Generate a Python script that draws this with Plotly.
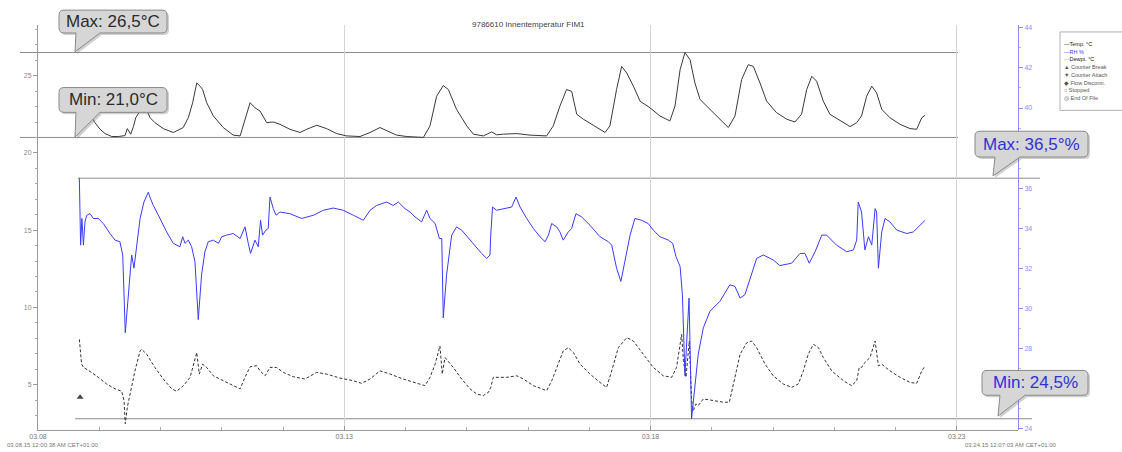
import pandas as pd
import plotly.graph_objects as go

# ---------------- data (hours since 2015-03-08 00:00) ----------------
start = pd.Timestamp("2015-03-08 00:00")

temp_hours = [17.1,20.4,22.3,24.3,26.3,28.9,31.5,34.1,35.0,36.3,37.4,38.3,40.0,41.9,43.9,45.8,49.1,53.0,56.9,58.9,
              60.6,62.2,63.5,64.5,66.1,68.7,72.6,76.5,79.2,81.1,83.1,85.0,87.0,89.6,92.2,94.8,98.7,102.7,105.3,109.2,
              113.1,117.0,120.9,126.2,130.1,134.0,136.6,140.5,144.5,151.0,153.6,156.2,158.8,160.8,164.0,168.0,170.6,174.5,177.8,179.7,
              182.3,187.6,192.8,199.3,201.9,204.5,207.1,209.1,211.1,213.7,217.6,222.2,224.1,226.7,228.7,230.7,233.3,235.9,239.8,243.7,
              247.6,249.6,251.6,253.5,255.5,257.4,259.4,263.3,267.2,270.5,273.1,275.7,278.3,280.3,282.9,285.5,289.4,293.4,296.6,299.2,
              301.2,303.2,305.1,307.7,310.3,314.3,318.2,320.8,322.7,324.7,326.7,328.6,330.6,333.8,337.8,341.7,344.3,346.3,347.6]
temp_values = [23.67,22.50,21.96,21.53,21.25,21.06,21.06,21.12,21.57,21.21,21.70,22.28,22.71,23.03,22.28,21.96,21.57,21.32,21.64,22.28,
               23.25,24.53,24.32,24.10,23.25,22.39,21.64,21.15,21.10,22.18,23.25,22.92,22.71,21.96,22.00,21.85,21.53,21.32,21.53,21.79,
               21.57,21.25,21.10,21.06,21.32,21.64,21.43,21.15,21.06,21.00,21.75,23.67,24.36,24.10,22.82,21.75,21.21,21.10,21.36,21.17,
               21.21,21.25,21.15,21.10,21.75,23.03,24.10,23.99,22.50,22.18,21.79,21.32,21.75,24.10,25.60,25.17,24.32,23.35,22.92,22.39,
               22.07,23.03,25.39,26.50,26.03,24.53,23.46,22.82,22.18,21.64,22.39,24.75,25.71,25.60,24.53,23.35,22.60,22.18,22.00,22.50,
               24.10,24.96,24.64,23.35,22.50,22.07,21.70,21.96,22.39,23.67,24.32,23.89,22.82,22.28,21.85,21.57,21.53,22.28,22.43]

rh_hours = [16.2,16.7,17.2,17.8,18.4,19.1,20.4,21.7,23.6,25.6,28.2,30.2,32.1,33.2,34.2,35.4,36.7,37.6,38.7,40.0,
            41.5,43.2,44.1,45.2,47.8,50.4,53.0,55.6,56.7,57.6,58.9,60.2,61.5,62.8,64.1,65.4,66.7,68.7,70.7,72.0,
            73.9,76.5,79.2,81.1,82.4,83.3,85.0,86.3,87.2,88.0,89.3,90.2,90.9,92.2,93.3,94.8,98.7,103.3,107.9,111.8,
            115.7,119.6,123.6,127.5,130.1,132.7,136.6,139.2,141.2,143.8,145.8,147.7,150.3,152.3,153.6,155.6,157.3,158.2,158.8,160.1,
            162.1,164.0,166.0,169.3,171.9,173.8,175.8,177.1,177.4,178.1,
            179.7,182.3,185.6,187.3,188.9,191.5,194.1,196.7,198.7,200.0,201.3,203.2,204.5,205.8,207.8,209.1,210.8,213.0,216.3,
            220.2,223.5,224.8,226.7,228.4,230.0,232.0,233.9,236.5,239.1,241.1,243.7,247.0,248.7,250.0,251.6,252.5,253.5,254.2,255.1,
            256.1,257.4,258.7,260.7,263.3,267.2,271.1,273.1,275.1,277.0,279.0,281.6,284.2,288.1,290.7,295.3,298.6,300.5,302.2,304.5,
            307.1,309.0,312.9,316.9,319.5,320.8,321.4,322.7,324.0,325.4,326.7,328.0,328.6,329.3,330.6,331.9,333.8,336.5,340.4,343.0,
            345.6,347.6]
rh_values = [36.50,33.16,34.49,33.16,34.32,34.65,34.73,34.49,34.49,34.24,33.74,33.41,33.33,32.67,28.79,30.69,32.67,32.01,33.16,34.49,
             35.31,35.80,35.47,35.14,34.49,33.82,33.25,33.08,33.58,33.25,33.41,33.08,32.34,29.45,31.68,32.83,33.33,33.41,33.25,33.58,
             33.66,33.74,33.49,34.07,33.25,32.75,33.41,33.08,34.40,33.66,33.91,33.99,35.56,34.98,34.65,34.81,34.73,34.49,34.65,34.90,
             35.01,34.90,34.65,34.40,34.90,35.14,35.31,35.14,35.31,34.98,34.81,34.57,34.32,34.90,34.49,34.24,33.49,33.49,29.53,31.68,
             33.66,34.07,33.91,33.41,33.00,32.75,32.50,32.67,33.66,35.06,
             34.90,34.98,35.06,35.56,35.06,34.49,33.99,33.58,33.33,33.66,34.24,34.07,33.82,33.41,33.82,33.99,34.73,34.57,34.15,
             33.58,33.33,33.16,32.01,31.35,32.34,33.66,34.49,34.40,34.24,33.91,33.58,33.41,33.25,32.59,32.09,30.69,26.65,28.38,30.52,
             24.50,26.23,27.72,29.04,29.86,30.36,31.18,31.10,30.52,30.69,31.51,32.50,32.67,32.42,32.14,32.26,32.75,32.75,32.26,32.83,
             33.66,33.66,33.16,32.83,32.92,33.41,35.31,34.81,32.92,33.58,33.16,34.98,34.81,32.01,33.82,34.49,34.32,33.91,33.74,33.82,
             34.15,34.40]

dew_hours = [16.2,17.1,17.8,19.1,21.0,23.6,26.9,30.2,32.8,33.7,34.2,35.0,36.0,38.0,40.0,40.6,42.6,45.8,49.1,52.4,
             54.3,57.0,59.6,61.1,62.2,63.2,64.5,66.1,68.7,72.6,76.5,79.2,81.1,83.1,85.7,87.0,89.0,90.9,93.5,96.1,
             100.0,104.6,109.2,113.1,118.3,123.6,126.8,130.1,134.0,138.0,143.1,148.4,151.6,153.6,155.6,157.5,158.4,159.5,162.7,166.0,
             169.3,171.9,174.5,176.5,177.4,178.4,
             179.7,183.6,187.6,190.2,194.1,199.3,201.3,203.2,205.8,207.8,209.8,212.4,216.3,220.2,222.8,
             224.8,227.4,230.7,233.3,237.2,241.1,245.0,248.3,250.2,252.2,252.9,253.9,255.2,256.1,256.8,257.8,
             258.7,260.7,264.6,268.5,270.9,272.5,275.1,277.7,279.6,281.6,284.9,288.1,292.0,295.3,297.9,299.9,
             301.8,303.8,305.8,307.7,311.0,315.6,318.8,320.8,321.8,322.7,324.0,326.0,328.0,329.3,330.6,333.8,
             337.8,341.7,344.3,346.3,347.6]
dew_values = [7.93,6.32,6.11,6.00,5.79,5.47,5.04,4.72,4.57,3.97,2.47,3.54,4.39,5.89,7.18,7.29,6.96,6.11,5.36,4.72,
              4.57,4.93,5.47,6.32,7.07,5.68,6.32,6.11,5.57,5.25,4.93,4.72,5.47,6.15,6.22,5.89,5.57,6.11,6.11,5.79,
              5.51,5.36,5.79,5.68,5.42,5.25,5.08,5.36,5.89,5.68,5.36,5.08,4.93,5.47,6.32,7.50,5.68,6.75,6.11,5.36,
              4.72,4.39,4.29,4.50,4.82,5.47,
              5.47,5.47,5.57,5.36,4.93,4.61,5.25,6.11,7.18,7.39,7.07,6.32,5.68,5.14,4.82,
              5.89,7.39,8.04,7.82,6.96,6.11,5.57,5.47,6.11,8.25,6.54,5.47,7.82,3.97,3.32,3.75,
              3.64,4.07,3.97,3.86,3.86,5.04,6.96,7.71,7.82,7.39,6.32,5.57,5.04,4.82,5.04,5.89,
              6.96,7.61,7.39,6.75,5.89,5.25,4.93,5.25,6.11,6.11,6.43,6.75,7.82,6.22,6.32,5.89,
              5.47,5.14,5.08,5.89,6.22]

event_hours = [16.5]
event_values = [4.18]

t_max, t_min = 26.5, 21.0
rh_max, rh_min = 36.5, 24.5

x_ticks = ["2015-03-08", "2015-03-13", "2015-03-18", "2015-03-23"]
x_tick_text = ["03.08", "03.13", "03.18", "03.23"]
left_ticks = [5, 10, 15, 20, 25]
right_ticks = [24, 28, 30, 32, 34, 36, 40, 42, 44]

legend_items = [("—Temp. °C", "#222222"), ("—RH %", "#3b3bff"), ("···Dewpt. °C", "#222222"),
                ("▲ Counter Break", "#555555"), ("▼ Counter Attach", "#555555"),
                ("◆ Flow Disconn.", "#555555"), ("○ Stopped", "#555555"), ("◎ End Of File", "#555555")]

def to_time(hours):
    return [start + pd.Timedelta(hours=h) for h in hours]

# ---------------- geometry helpers (layout only) ----------------
W, H = 1122, 452
ML, MR, MT, MB = 38, 104, 25, 19
PW, PH = W - ML - MR, H - MT - MB

def px(x):
    return (x - ML) / PW

def py(y):
    return (H - MB - y) / PH

FONT = "Liberation Sans, Arial, sans-serif"

fig = go.Figure()
fig.add_trace(go.Scatter(x=to_time(temp_hours), y=temp_values, mode="lines", name="Temp. °C",
                         line=dict(color="#3a3a3a", width=1), yaxis="y"))
fig.add_trace(go.Scatter(x=to_time(rh_hours), y=rh_values, mode="lines", name="RH %",
                         line=dict(color="#3b3bff", width=1), yaxis="y2"))
fig.add_trace(go.Scatter(x=to_time(dew_hours), y=dew_values, mode="lines", name="Dewpt. °C",
                         line=dict(color="#333333", width=1, dash="3px,2px"), yaxis="y"))
fig.add_trace(go.Scatter(x=to_time(event_hours), y=event_values, mode="markers", name="Counter Break",
                         marker=dict(symbol="triangle-up", size=6, color="#444444"), yaxis="y"))

shapes = []
for val, ax, x0, x1 in [(t_max, "y", 20, 958), (t_min, "y", 20, 958),
                        (rh_max, "y2", 78, 1040), (rh_min, "y2", 75, 1032)]:
    shapes.append(dict(type="line", xref="paper", yref=ax, x0=px(x0), x1=px(x1), y0=val, y1=val,
                       line=dict(color="#8c8c8c", width=1), layer="below"))

def callout_path(x0, y0, x1, y1, b0, b1, tx, ty, r=5, dx=0, dy=0):
    def P(x, y):
        return "%.5f,%.5f" % (px(x + dx), py(y + dy))
    s = "M" + P(x0 + r, y0)
    s += " L" + P(x1 - r, y0) + " Q" + P(x1, y0) + " " + P(x1, y0 + r)
    s += " L" + P(x1, y1 - r) + " Q" + P(x1, y1) + " " + P(x1 - r, y1)
    s += " L" + P(b1, y1) + " L" + P(tx, ty) + " L" + P(b0, y1)
    s += " L" + P(x0 + r, y1) + " Q" + P(x0, y1) + " " + P(x0, y1 - r)
    s += " L" + P(x0, y0 + r) + " Q" + P(x0, y0) + " " + P(x0 + r, y0) + " Z"
    return s

callouts = [
    ("Max: 26,5°C", "#2b2b2b", (59, 10, 167, 33, 76, 100, 75, 52)),
    ("Min: 21,0°C", "#2b2b2b", (59, 88, 167, 113, 76, 100, 75, 138)),
    ("Max: 36,5°%", "#3030d8", (975, 132, 1088, 158, 995, 1020, 993, 177)),
    ("Min: 24,5%", "#3030d8", (982, 373, 1088, 398, 1000, 1025, 998, 419)),
]
annotations = []
for text, col, g in callouts:
    shapes.append(dict(type="path", xref="paper", yref="paper", path=callout_path(*g, dx=2, dy=2),
                       fillcolor="rgba(120,120,120,0.35)", line=dict(width=0), layer="above"))
    shapes.append(dict(type="path", xref="paper", yref="paper", path=callout_path(*g),
                       fillcolor="#d6d6d6", line=dict(color="#8a8a8a", width=1), layer="above"))
    annotations.append(dict(text=text, xref="paper", yref="paper", x=px((g[0] + g[2]) / 2),
                            y=py((g[1] + g[3]) / 2), showarrow=False, xanchor="center", yanchor="middle",
                            font=dict(family=FONT, size=17, color=col)))

# legend box (cut by the right edge like the reference)
shapes.append(dict(type="rect", xref="paper", yref="paper", x0=px(1060), x1=px(1135), y0=py(32), y1=py(111),
                   fillcolor="white", line=dict(color="#b0b0b0", width=1), layer="above"))
for i, (t, c) in enumerate(legend_items):
    annotations.append(dict(text=t, xref="paper", yref="paper", x=px(1062), y=py(44 + i * 7.8),
                            xanchor="left", yanchor="middle", showarrow=False,
                            font=dict(family=FONT, size=5.5, color=c)))

annotations.append(dict(text="9786610 Innentemperatur FIM1", xref="paper", yref="paper", x=px(528), y=py(24),
                        showarrow=False, xanchor="center", yanchor="middle",
                        font=dict(family=FONT, size=8, color="#444444")))
annotations.append(dict(text="03.08.15 12:00:38 AM CET+01:00", xref="paper", yref="paper", x=px(5), y=py(448),
                        showarrow=False, xanchor="left", yanchor="middle",
                        font=dict(family=FONT, size=6, color="#777777")))
annotations.append(dict(text="03.24.15 12:07:03 AM CET+01:00", xref="paper", yref="paper", x=px(963), y=py(448),
                        showarrow=False, xanchor="left", yanchor="middle",
                        font=dict(family=FONT, size=6, color="#777777")))

fig.update_layout(
    width=W, height=H, autosize=False,
    margin=dict(l=ML, r=MR, t=MT, b=MB, pad=0),
    paper_bgcolor="white", plot_bgcolor="white",
    showlegend=False,
    font=dict(family=FONT, size=7, color="#777777"),
    xaxis=dict(type="date", range=["2015-03-08 00:00", "2015-03-24 00:00"], domain=[0, 1],
               tickmode="array", tickvals=x_ticks, ticktext=x_tick_text,
               showgrid=True, gridcolor="#d4d4d4", gridwidth=1, zeroline=False,
               showline=True, linecolor="#9a9a9a", linewidth=1,
               ticks="inside", ticklen=4, tickcolor="#9a9a9a",
               tickfont=dict(family=FONT, size=7, color="#777777"),
               minor=dict(tick0="2015-03-08", dtick=86400000, ticks="inside", ticklen=3,
                          tickcolor="#aaaaaa", showgrid=False)),
    yaxis=dict(range=[2.06, 28.28], tickmode="array", tickvals=left_ticks, showgrid=False, zeroline=False,
               showline=True, linecolor="#9a9a9a", linewidth=1, ticks="outside", ticklen=4, tickcolor="#9a9a9a",
               tickfont=dict(family=FONT, size=7, color="#888888"),
               minor=dict(dtick=1, ticks="outside", ticklen=2, tickcolor="#aaaaaa", showgrid=False)),
    yaxis2=dict(overlaying="y", side="right", anchor="free", position=1, range=[23.94, 44.14],
                tickmode="array", tickvals=right_ticks, showgrid=False, zeroline=False,
                showline=True, linecolor="#8c8cff", linewidth=1, ticks="outside", ticklen=4, tickcolor="#8c8cff",
                tickfont=dict(family=FONT, size=7, color="#8c8cff"),
                minor=dict(dtick=1, ticks="outside", ticklen=2, tickcolor="#b0b0ff", showgrid=False)),
    shapes=shapes,
    annotations=annotations,
)

fig.write_html("out.html", config={"displayModeBar": False},
               post_script="document.body.style.margin='0px';document.body.style.overflow='hidden';")
